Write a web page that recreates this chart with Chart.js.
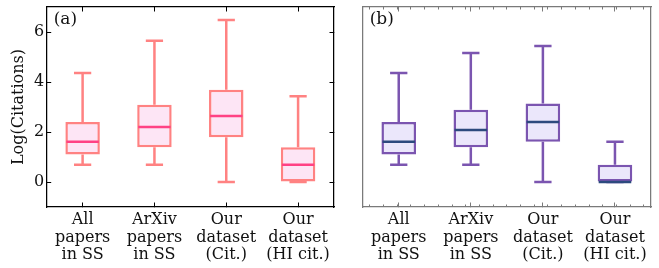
<!DOCTYPE html>
<html>
<head>
<meta charset="utf-8">
<script src="https://cdn.jsdelivr.net/npm/chart.js@4.4.1/dist/chart.umd.min.js"></script>
<style>
  html, body { margin: 0; padding: 0; background: #fff; }
  #wrap { position: relative; width: 659px; height: 268px; }
  canvas { position: absolute; top: 0; }
  #chartA { left: 0; }
  #chartB { left: 340px; }
</style>
</head>
<body>
<div id="wrap">
  <canvas id="chartA" width="340" height="268"></canvas>
  <canvas id="chartB" width="319" height="268"></canvas>
</div>
<script>
const categories = [
  ['All', 'papers', 'in SS'],
  ['ArXiv', 'papers', 'in SS'],
  ['Our', 'dataset', '(Cit.)'],
  ['Our', 'dataset', '(HI cit.)']
];
const yTicks = [0, 2, 4, 6];

// panel (a)
const aLow = [0.69, 0.69, 0, 0];
const aQ1 = [1.1, 1.39, 1.79, 0];
const aMed = [1.61, 2.2, 2.64, 0.69];
const aQ3 = [2.4, 3.09, 3.69, 1.39];
const aHigh = [4.36, 5.65, 6.48, 3.43];

// panel (b)
const bLow = [0.69, 0.69, 0, 0];
const bQ1 = [1.1, 1.39, 1.61, 0];
const bMed = [1.61, 2.08, 2.4, 0];
const bQ3 = [2.4, 2.89, 3.14, 0.69];
const bHigh = [4.36, 5.16, 5.44, 1.61];

const serif = 'DejaVu Serif';
const textSize = 16;

// whiskers, caps, medians and the panel letter, placed with the chart's scales
const boxExtras = {
  id: 'boxExtras',
  beforeDatasetsDraw(chart, args, o) {
    const { ctx, scales: { x, y } } = chart;
    const bars = chart.getDatasetMeta(0).data;
    ctx.save();
    ctx.strokeStyle = o.edge;
    ctx.lineWidth = 2.5;
    o.low.forEach((lo, i) => {
      const px = x.getPixelForValue(i);
      const cap = bars[i].width / 4;
      [[o.q1[i], lo], [o.q3[i], o.high[i]]].forEach(([from, to]) => {
        ctx.beginPath();
        ctx.moveTo(px, y.getPixelForValue(from));
        ctx.lineTo(px, y.getPixelForValue(to));
        ctx.moveTo(px - cap, y.getPixelForValue(to));
        ctx.lineTo(px + cap, y.getPixelForValue(to));
        ctx.stroke();
      });
    });
    ctx.restore();
  },
  afterDatasetsDraw(chart, args, o) {
    const { ctx, scales: { x, y }, chartArea } = chart;
    const bars = chart.getDatasetMeta(0).data;
    ctx.save();
    ctx.strokeStyle = o.median;
    ctx.lineWidth = 2.5;
    o.med.forEach((m, i) => {
      const px = x.getPixelForValue(i);
      const half = bars[i].width / 2 - 1;
      ctx.beginPath();
      ctx.moveTo(px - half, y.getPixelForValue(m));
      ctx.lineTo(px + half, y.getPixelForValue(m));
      ctx.stroke();
    });
    ctx.fillStyle = '#111';
    ctx.font = '17px "' + serif + '"';
    ctx.textBaseline = 'top';
    ctx.fillText(o.label, chartArea.left + 7, chartArea.top + 4);
    ctx.restore();
  }
};

function frameAxis(position, color, extra) {
  return Object.assign({
    position: position,
    grid: { drawOnChartArea: false, tickLength: -4.5, color: color, lineWidth: 1 },
    border: { color: color, width: 1.25 },
    ticks: { display: false }
  }, extra);
}

function fitH(h) {
  return s => { s.height = h; s.paddingLeft = 0; s.paddingRight = 0; };
}
function fitW(w) {
  return s => { s.width = w; s.paddingTop = 0; s.paddingBottom = 0; };
}

function makeChart(id, p) {
  const setTicks = s => { s.ticks = yTicks.map(v => ({ value: v })); };
  const minorTicks = s => {
    const t = [];
    for (let k = -2; k <= 17; k++) t.push({ value: k / 5 });
    s.ticks = t;
  };
  const font = { family: serif, size: textSize, lineHeight: 1.12 };
  const scales = {
    x: frameAxis('bottom', p.frame, {
      type: 'category', offset: true, weight: 1,
      grid: { offset: false, drawOnChartArea: false, tickLength: -4.5, color: p.frame, lineWidth: 1 },
      ticks: { display: true, padding: 8, color: '#111', maxRotation: 0, autoSkip: false, font: font },
      afterFit: fitH(61)
    }),
    xTop: frameAxis('top', p.frame, {
      type: 'category', offset: true, weight: 1,
      grid: { offset: false, drawOnChartArea: false, tickLength: -4.5, color: p.frame, lineWidth: 1 },
      afterFit: fitH(0)
    }),
    y: frameAxis('left', p.frame, {
      min: -1, max: 7,
      afterBuildTicks: setTicks,
      afterFit: fitW(p.leftWidth)
    }),
    y2: frameAxis('right', p.frame, {
      min: -1, max: 7,
      afterBuildTicks: setTicks,
      afterFit: fitW(0)
    })
  };
  if (p.yLabels) {
    scales.y.ticks = { display: true, padding: 7, color: '#111', font: font };
    scales.y.title = { display: true, text: 'Log(Citations)', color: '#111',
                       font: { family: serif, size: textSize }, padding: { top: 9.5, bottom: 0 } };
  } else {
    scales.y.grid.drawTicks = false;
    scales.y2.grid.drawTicks = false;
  }
  if (p.minor) {
    scales.xMinor = frameAxis('bottom', p.frame, {
      type: 'linear', min: -0.5, max: 3.5, weight: 0,
      grid: { drawOnChartArea: false, tickLength: -2.5, color: p.frame, lineWidth: 1 },
      border: { display: false },
      afterBuildTicks: minorTicks,
      afterFit: fitH(0)
    });
    scales.xMinorTop = frameAxis('top', p.frame, {
      type: 'linear', min: -0.5, max: 3.5, weight: 0,
      grid: { drawOnChartArea: false, tickLength: -2.5, color: p.frame, lineWidth: 1 },
      border: { display: false },
      afterBuildTicks: minorTicks,
      afterFit: fitH(0)
    });
  }

  return new Chart(document.getElementById(id), {
    type: 'bar',
    data: {
      labels: categories,
      datasets: [{
        data: p.q1.map((v, i) => [v, p.q3[i]]),
        backgroundColor: p.fill,
        borderColor: p.edge,
        borderWidth: 2.5,
        borderSkipped: false,
        barPercentage: 0.48,
        categoryPercentage: 1,
        xAxisID: 'x',
        yAxisID: 'y'
      }]
    },
    options: {
      responsive: false,
      animation: false,
      layout: { padding: { top: 7, right: p.rightPad, bottom: 0, left: 0 } },
      plugins: {
        legend: { display: false },
        tooltip: { enabled: false },
        boxExtras: {
          low: p.low, q1: p.q1, med: p.med, q3: p.q3, high: p.high,
          edge: p.edge, median: p.median, label: p.label
        }
      },
      scales: scales
    },
    plugins: [boxExtras]
  });
}

makeChart('chartA', {
  low: aLow, q1: aQ1, med: aMed, q3: aQ3, high: aHigh,
  edge: '#ff8282', fill: '#fde5f5', median: '#ff4284', label: '(a)',
  frame: '#000', leftWidth: 46.7, rightPad: 6, yLabels: true, minor: false
});

makeChart('chartB', {
  low: bLow, q1: bQ1, med: bMed, q3: bQ3, high: bHigh,
  edge: '#7b55b0', fill: '#ebe7fb', median: '#2d4a7e', label: '(b)',
  frame: '#7a7a7a', leftWidth: 22.7, rightPad: 8, yLabels: false, minor: true
});
</script>
</body>
</html>
